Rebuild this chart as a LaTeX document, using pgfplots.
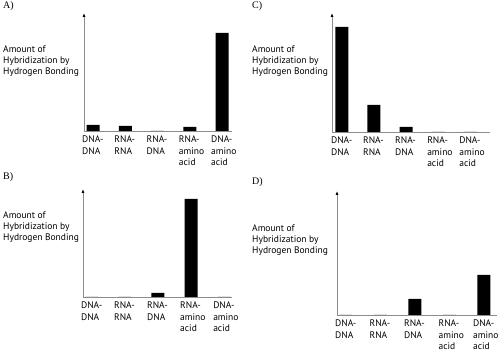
\documentclass[border=0pt]{standalone}
\usepackage{pgfplots}
\pgfplotsset{compat=1.18}
\usetikzlibrary{arrows.meta}
\usepackage{fontspec}
\setmainfont{PT Sans}
\newfontfamily\panelfont{Liberation Serif}

\pgfplotsset{
  hyb/.style={
    scale only axis, ybar, bar width=13pt, anchor=south west,
    ymin=0, clip=false,
    axis x line=bottom, axis y line=left,
    x axis line style={-, draw=black!45, line width=0.8pt},
    y axis line style={-{Latex[length=4pt,width=3pt,black]}, draw=black!45, line width=0.8pt},
    xtick={0,1,2,3,4},
    xticklabels={{DNA-\\DNA},{RNA-\\RNA},{RNA-\\DNA},{RNA-\\amino\\acid},{DNA-\\amino\\acid}},
    xticklabel style={align=left, anchor=north west, inner sep=0pt, xshift=-11pt, yshift=-5pt,
      font=\fontsize{9.5}{11.5}\selectfont},
    major tick length=0pt, ytick=\empty,
  },
}

\begin{document}
\begin{tikzpicture}
\useasboundingbox (0pt,0pt) rectangle (504pt,353pt);

% Panel A
\begin{axis}[hyb, at={(84pt,222pt)}, width=148pt, height=118pt, xmin=-0.28, xmax=4.31, ymax=118]
\addplot[fill=black, draw=none] coordinates {(0,6) (1,5) (2,0) (3,4) (4,98)};
\end{axis}

% Panel B
\begin{axis}[hyb, at={(83pt,56pt)}, width=149pt, height=108pt, xmin=-0.27, xmax=4.24, ymax=108]
\addplot[fill=black, draw=none] coordinates {(0,0) (1,0) (2,4) (3,98) (4,0)};
\end{axis}

% Panel C
\begin{axis}[hyb, at={(332pt,221pt)}, width=158pt, height=119pt, xmin=-0.31, xmax=4.62, ymax=119]
\addplot[fill=black, draw=none] coordinates {(0,105) (1,27) (2,5) (3,0) (4,0)};
\end{axis}

% Panel D
\begin{axis}[hyb, at={(337pt,38pt)}, width=160pt, height=124pt, xmin=-0.26, xmax=4.38, ymax=124]
\addplot[fill=black, draw=none] coordinates {(0,0) (1,0) (2,16) (3,0) (4,40)};
\end{axis}

\tikzset{plab/.style={anchor=west, inner sep=0pt, font=\panelfont\fontsize{10}{12}\selectfont},
         ylab/.style={anchor=north west, inner sep=0pt, align=left, font=\fontsize{9.5}{11}\selectfont}}
\node[plab] at (3pt,347pt) {A)};
\node[plab] at (252pt,347pt) {C)};
\node[plab] at (3pt,176pt) {B)};
\node[plab] at (252pt,170.5pt) {D)};
\node[ylab] at (3pt,307pt) {Amount of\\Hybridization by\\Hydrogen Bonding};
\node[ylab] at (252pt,307pt) {Amount of\\Hybridization by\\Hydrogen Bonding};
\node[ylab] at (3pt,141pt) {Amount of\\Hybridization by\\Hydrogen Bonding};
\node[ylab] at (252pt,128pt) {Amount of\\Hybridization by\\Hydrogen Bonding};
\end{tikzpicture}
\end{document}
